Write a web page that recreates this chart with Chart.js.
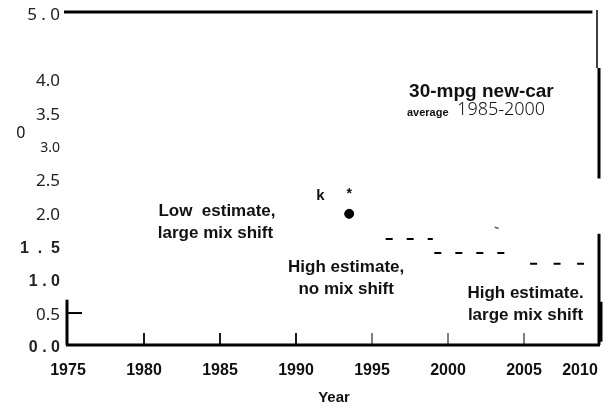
<!DOCTYPE html>
<html>
<head>
<meta charset="utf-8">
<script src="https://cdn.jsdelivr.net/npm/chart.js@4.4.1/dist/chart.umd.min.js"></script>
<style>
  html, body { margin: 0; padding: 0; background: #fff; }
  #wrap { width: 611px; height: 407px; }
</style>
</head>
<body>
<div id="wrap"><canvas id="c"></canvas></div>
<script>
// ── data ──
const xTicks = [1975, 1980, 1985, 1990, 1995, 2000, 2005, 2010];
const yTicks = [0, 0.5, 1, 1.5, 2, 2.5, 3, 3.5, 4, 5];
const yTickLabels = ['0 . 0', '0.5', '1 . 0', '1  .  5', '2.0', '2.5', '3.0', '3.5', '4.0', '5 . 0'];
const boldYTicks = [0, 1, 1.5];

// single 1993 point
const pointYear = [1993.5];
const pointValue = [1.97];

// three dashed segments (start year, end year, level)
const dashStart = [1995.9, 1999.1, 2005.4];
const dashEnd = [1999.0, 2003.8, 2009.0];
const dashLevel = [1.59, 1.38, 1.22];
const dashGap = [14, 14, 16.5];

// text notes placed in data units
const BOLD = '"Liberation Sans", Arial';
const notes = [
  { text: '30-mpg new-car', x: 2002.2, y: 3.80, font: `bold 19px ${BOLD}`, align: 'center' },
  { text: 'average', x: 1997.3, y: 3.49, font: `bold 11px ${BOLD}`, align: 'left' },
  { text: '1985-2000', x: 2000.6, y: 3.53, font: '300 18px "Noto Sans"', align: 'left' },
  { text: 'Low  estimate,', x: 1984.8, y: 2.00, font: `bold 17px ${BOLD}`, align: 'center' },
  { text: 'large mix shift', x: 1984.7, y: 1.67, font: `bold 17px ${BOLD}`, align: 'center' },
  { text: 'k', x: 1991.6, y: 2.24, font: `bold 15px ${BOLD}`, align: 'center' },
  { text: '*', x: 1993.5, y: 2.26, font: `bold 14px ${BOLD}`, align: 'center' },
  { text: 'High estimate,', x: 1993.3, y: 1.16, font: `bold 17px ${BOLD}`, align: 'center' },
  { text: 'no mix shift', x: 1993.3, y: 0.83, font: `bold 17px ${BOLD}`, align: 'center' },
  { text: 'High estimate.', x: 2005.1, y: 0.78, font: `bold 17px ${BOLD}`, align: 'center' },
  { text: 'large mix shift', x: 2005.1, y: 0.45, font: `bold 17px ${BOLD}`, align: 'center' },
  { text: '0', x: 1971.9, y: 3.18, font: '16px "Noto Sans"', align: 'center' },
];

const datasets = dashLevel.map((lv, i) => ({
  type: 'line',
  data: [{ x: dashStart[i], y: lv }, { x: dashEnd[i], y: lv }],
  borderColor: '#000',
  borderWidth: 2,
  borderDash: [7, dashGap[i]],
  pointRadius: 0,
}));
datasets.push({
  type: 'scatter',
  data: pointYear.map((x, i) => ({ x, y: pointValue[i] })),
  backgroundColor: '#000',
  borderColor: '#000',
  pointRadius: 4.5,
});
// tiny stray mark above the middle dashes
datasets.push({
  type: 'scatter',
  data: [{ x: 2003.2, y: 1.76 }],
  pointStyle: 'line',
  rotation: 20,
  borderColor: '#555',
  borderWidth: 1.5,
  pointRadius: 2,
});

const framePlugin = {
  id: 'frame',
  afterDraw(chart) {
    const { ctx, chartArea: a, scales: { x, y } } = chart;
    ctx.save();
    ctx.strokeStyle = '#000';
    ctx.lineCap = 'butt';
    const seg = (x1, y1, x2, y2, w) => {
      ctx.lineWidth = w;
      ctx.beginPath(); ctx.moveTo(x1, y1); ctx.lineTo(x2, y2); ctx.stroke();
    };
    // top rule
    seg(a.left - 4, y.getPixelForValue(5), x.getPixelForValue(2009.5), y.getPixelForValue(5), 3);
    // broken right edge
    seg(a.right - 3, y.getPixelForValue(5.03), a.right - 3, y.getPixelForValue(4.16), 1.5);
    seg(a.right - 1, y.getPixelForValue(4.16), a.right - 1, y.getPixelForValue(2.5), 3);
    seg(a.right - 1, y.getPixelForValue(1.67), a.right - 1, y.getPixelForValue(0), 3);
    seg(a.right + 1, y.getPixelForValue(0.65), a.right + 1, y.getPixelForValue(0.05), 3);
    // stub of left axis with its 0.5 tick
    seg(a.left - 1, y.getPixelForValue(0.68), a.left - 1, y.getPixelForValue(0), 3);
    seg(a.left - 1, y.getPixelForValue(0.48), a.left + 14, y.getPixelForValue(0.48), 2);
    // bottom axis
    seg(a.left - 2, a.bottom, a.right, a.bottom, 3);
    // inward x tick marks
    xTicks.slice(1, -1).forEach(v => {
      const px = x.getPixelForValue(v);
      seg(px, a.bottom, px, a.bottom - 12, v >= 1995 ? 1 : 1.8);
    });
    // notes
    ctx.fillStyle = '#111';
    ctx.textBaseline = 'middle';
    notes.forEach(n => {
      ctx.font = n.font;
      ctx.textAlign = n.align;
      ctx.fillText(n.text, x.getPixelForValue(n.x), y.getPixelForValue(n.y));
    });
    ctx.restore();
  }
};

new Chart(document.getElementById('c'), {
  data: { datasets },
  plugins: [framePlugin],
  options: {
    responsive: true,
    maintainAspectRatio: false,
    animation: false,
    layout: { padding: { top: 12, right: 11, left: 0, bottom: 0 } },
    plugins: { legend: { display: false }, tooltip: { enabled: false } },
    scales: {
      x: {
        type: 'linear',
        min: 1975,
        max: 2010,
        grid: { display: false, drawTicks: false },
        border: { display: false },
        afterBuildTicks: s => { s.ticks = xTicks.map(v => ({ value: v })); },
        afterFit: s => { s.height = 62; s.paddingLeft = 0; s.paddingRight = 0; },
        ticks: {
          color: '#111',
          padding: 16,
          maxRotation: 0,
          autoSkip: false,
          font: { family: BOLD, size: 16, weight: 'bold' },
          // the scan sets "2010" in from the axis end
          callback: (v, i, t) => i === t.length - 1 ? String(v) + ' '.repeat(9) : String(v),
        },
        title: {
          display: true,
          text: 'Year',
          color: '#111',
          font: { family: BOLD, size: 15, weight: 'bold' },
          padding: { top: 2, bottom: 0 },
        },
      },
      y: {
        type: 'linear',
        min: 0,
        max: 5,
        grid: { display: false, drawTicks: false },
        border: { display: false },
        afterBuildTicks: s => { s.ticks = yTicks.map(v => ({ value: v })); },
        afterFit: s => { s.width = 68; s.paddingTop = 0; s.paddingBottom = 0; },
        ticks: {
          color: '#222',
          padding: 8,
          labelOffset: 3,
          autoSkip: false,
          callback: (v, i) => yTickLabels[i],
          font: ctx => {
            const v = ctx.tick ? ctx.tick.value : 0;
            if (boldYTicks.includes(v)) return { family: BOLD, size: 16, weight: 'bold' };
            if (v === 3) return { family: '"Noto Sans"', size: 14 };
            return { family: '"Noto Sans"', size: 17 };
          },
        },
      },
    },
  },
});
</script>
</body>
</html>
